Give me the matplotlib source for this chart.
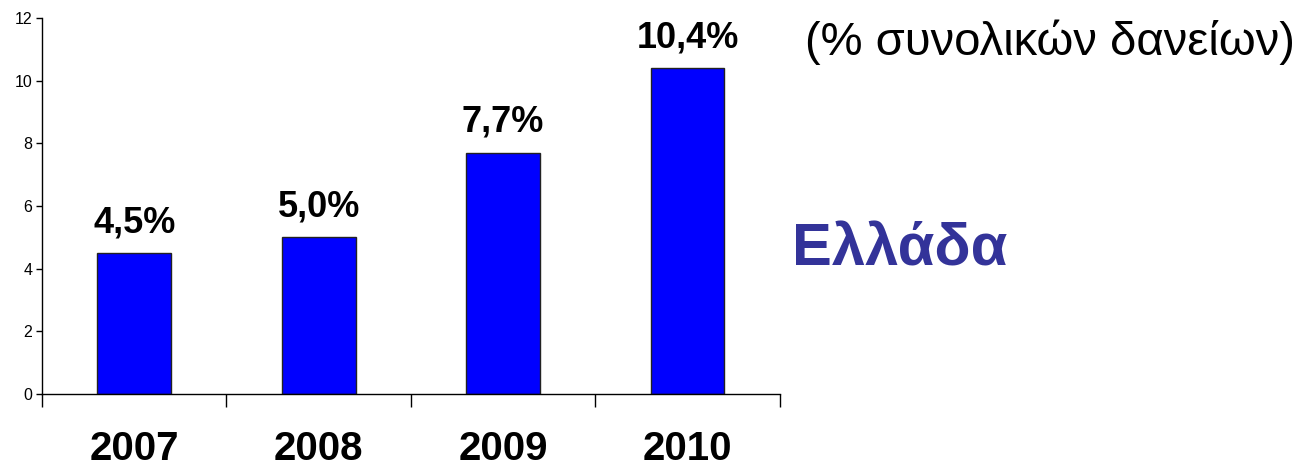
import matplotlib.pyplot as plt
import numpy as np

years = ['2007', '2008', '2009', '2010']
values = [4.5, 5.0, 7.7, 10.4]
value_labels = ['4,5%', '5,0%', '7,7%', '10,4%']
y_ticks = [0, 2, 4, 6, 8, 10, 12]

plt.rcParams['font.family'] = ['Liberation Sans', 'DejaVu Sans']

fig = plt.figure(figsize=(13.08, 4.73), dpi=100)
ax = fig.add_axes([0.0321, 0.167, 0.564, 0.795])

x = np.arange(len(years))
ax.bar(x, values, width=0.4, color='#0000FF', edgecolor='#222222', linewidth=1)

for xi, v, lab in zip(x, values, value_labels):
    ax.annotate(lab, (xi, v), xytext=(0, 15), textcoords='offset points',
                ha='center', va='baseline', fontsize=26, fontweight='bold')

ax.set_xlim(-0.5, 3.5)
ax.set_ylim(0, 12)
ax.set_yticks(y_ticks)
ax.tick_params(axis='y', labelsize=11.5, length=4, width=1, direction='out', pad=3)

# boundaries between categories get the tick marks, years sit under the bars
ax.set_xticks(np.arange(-0.5, 4.0, 1.0))
ax.set_xticklabels([])
ax.tick_params(axis='x', which='major', length=9, width=1, direction='out')
ax.set_xticks(x, minor=True)
ax.set_xticklabels(years, minor=True, fontsize=29, fontweight='bold')
ax.tick_params(axis='x', which='minor', length=0, pad=26)

for s in ['top', 'right']:
    ax.spines[s].set_visible(False)
ax.spines['left'].set_linewidth(1)
ax.spines['bottom'].set_linewidth(1)

fig.text(805 / 1308, 1 - 55 / 473, '(% συνολικών δανείων)', fontsize=34,
         ha='left', va='baseline')
fig.text(792 / 1308, 1 - 265 / 473, 'Ελλάδα', fontsize=43, fontweight='bold',
         color='#333399', ha='left', va='baseline')

fig.savefig('out.png', dpi=100)
